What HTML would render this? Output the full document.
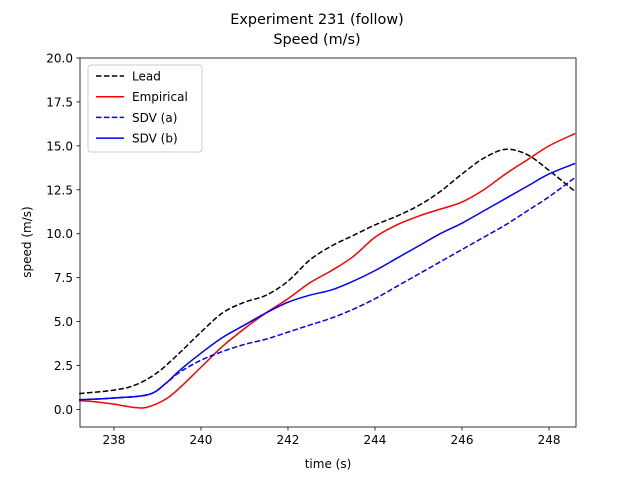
<!DOCTYPE html>
<html><head><meta charset="utf-8"><style>
body{margin:0;background:#fff;font-family:"Liberation Sans","DejaVu Sans",sans-serif}
svg text{font-family:"DejaVu Sans","Liberation Sans",sans-serif;fill:#000}
</style></head><body>
<svg id="chart" width="640" height="480" xmlns="http://www.w3.org/2000/svg">
<rect width="640" height="480" fill="#fff"/>
<text x="317" y="24" text-anchor="middle" font-size="14.4">Experiment 231 (follow)</text>
<text x="317" y="44" text-anchor="middle" font-size="14.4">Speed (m/s)</text>
<g id="axes"></g>
<g id="series"></g>
<rect x="80" y="58" width="496" height="369" fill="none" stroke="#000" stroke-width="0.8"/>
<text x="328" y="468" text-anchor="middle" font-size="12">time (s)</text>
<text transform="translate(31,242) rotate(-90)" text-anchor="middle" font-size="12">speed (m/s)</text>
<g id="legend">
<rect x="88" y="65" width="114" height="87" rx="3" fill="#fff" fill-opacity="0.8" stroke="#ccc"/>
</g>
</svg>
<script>
const xTicks=[238,240,242,244,246,248];
const yTicks=[0,2.5,5,7.5,10,12.5,15,17.5,20];
const tLead=[237.2,238,238.5,239,239.5,240,240.5,241,241.5,242,242.5,243,243.5,244,244.5,245,245.5,246,246.5,247,247.5,248,248.6];
const vLead=[0.9,1.1,1.4,2.1,3.2,4.4,5.5,6.1,6.5,7.3,8.5,9.3,9.9,10.5,11.0,11.6,12.4,13.4,14.3,14.8,14.5,13.6,12.4];
const tEmp=[237.2,237.5,238,238.5,238.8,239.2,239.5,240,240.5,241,241.5,242,242.5,243,243.5,244,244.5,245,245.5,246,246.5,247,247.5,248,248.6];
const vEmp=[0.5,0.45,0.3,0.1,0.15,0.6,1.2,2.4,3.6,4.6,5.5,6.3,7.2,7.9,8.7,9.8,10.5,11.0,11.4,11.8,12.5,13.4,14.2,15.0,15.7];
const tSdv=[237.2,238,238.8,239.2,239.5,240,240.5,241,241.5,242,242.5,243,243.5,244,244.5,245,245.5,246,246.5,247,247.5,248,248.6];
const vSdvA=[0.55,0.65,0.85,1.5,2.1,2.8,3.3,3.7,4.0,4.4,4.8,5.2,5.7,6.3,7.0,7.7,8.4,9.1,9.8,10.5,11.3,12.1,13.2];
const vSdvB=[0.55,0.65,0.85,1.5,2.2,3.2,4.1,4.8,5.5,6.1,6.5,6.8,7.3,7.9,8.6,9.3,10.0,10.6,11.3,12.0,12.7,13.4,14.0];
const X0=237.22,X1=248.62,Y0=-1,Y1=20,L=80,R=576,T=58,B=427;
const xs=v=>L+(v-X0)/(X1-X0)*(R-L);
const ys=v=>B-(v-Y0)/(Y1-Y0)*(B-T);
const NS="http://www.w3.org/2000/svg";
const axes=document.getElementById('axes');
function mk(tag,attrs,parent){const e=document.createElementNS(NS,tag);for(const k in attrs)e.setAttribute(k,attrs[k]);parent.appendChild(e);return e;}
xTicks.forEach(v=>{
 const g=mk('g',{},axes);
 
 
 mk('line',{x1:xs(v),x2:xs(v),y1:B,y2:B+3.5,stroke:'#000','stroke-width':0.8},g);
 const t=mk('text',{x:xs(v),y:B+17,'text-anchor':'middle','font-size':12},g);t.textContent=v;
});
yTicks.forEach(v=>{
 const g=mk('g',{},axes);
 
 
 mk('line',{x1:L-3.5,x2:L,y1:ys(v),y2:ys(v),stroke:'#000','stroke-width':0.8},g);
 const t=mk('text',{x:L-7,y:ys(v)+4.5,'text-anchor':'end','font-size':12},g);t.textContent=v.toFixed(1);
});
const ser=document.getElementById('series');
function smooth(pts){
 let d='M'+pts[0][0]+','+pts[0][1];
 for(let i=0;i<pts.length-1;i++){
  const p0=pts[Math.max(0,i-1)],p1=pts[i],p2=pts[i+1],p3=pts[Math.min(pts.length-1,i+2)];
  const c1x=p1[0]+(p2[0]-p0[0])/6,c1y=p1[1]+(p2[1]-p0[1])/6;
  const c2x=p2[0]-(p3[0]-p1[0])/6,c2y=p2[1]-(p3[1]-p1[1])/6;
  d+=' C'+c1x+','+c1y+' '+c2x+','+c2y+' '+p2[0]+','+p2[1];
 }
 return d;
}
function line(ts,vs,color,dash,name){
 const pts=ts.map((t,i)=>[xs(t),ys(vs[i])]);
 const p=mk('path',{d:smooth(pts),fill:'none',stroke:color,'stroke-width':1.5,'stroke-linejoin':'round'},ser);
 if(dash)p.setAttribute('stroke-dasharray',dash);
 
 
}
line(tLead,vLead,'#000','5.5,2.4','lead-line');
line(tEmp,vEmp,'#f00',null,'empirical-line');
line(tSdv,vSdvA,'#00f','5.5,2.4','sdv-a-line');
line(tSdv,vSdvB,'#00f',null,'sdv-b-line');
const leg=document.getElementById('legend');
[['Lead','#000',true],['Empirical','#f00',false],['SDV (a)','#00f',true],['SDV (b)','#00f',false]].forEach((e,i)=>{
 const y=76+i*20.7;
 const g=mk('g',{},leg);
 
 
 const l=mk('line',{x1:96,x2:124,y1:y,y2:y,stroke:e[1],'stroke-width':1.5},g);
 if(e[2])l.setAttribute('stroke-dasharray','5.5,2.4');
 const t=mk('text',{x:132,y:y+4.5,'font-size':12},g);t.textContent=e[0];
});
</script>
</body></html>
